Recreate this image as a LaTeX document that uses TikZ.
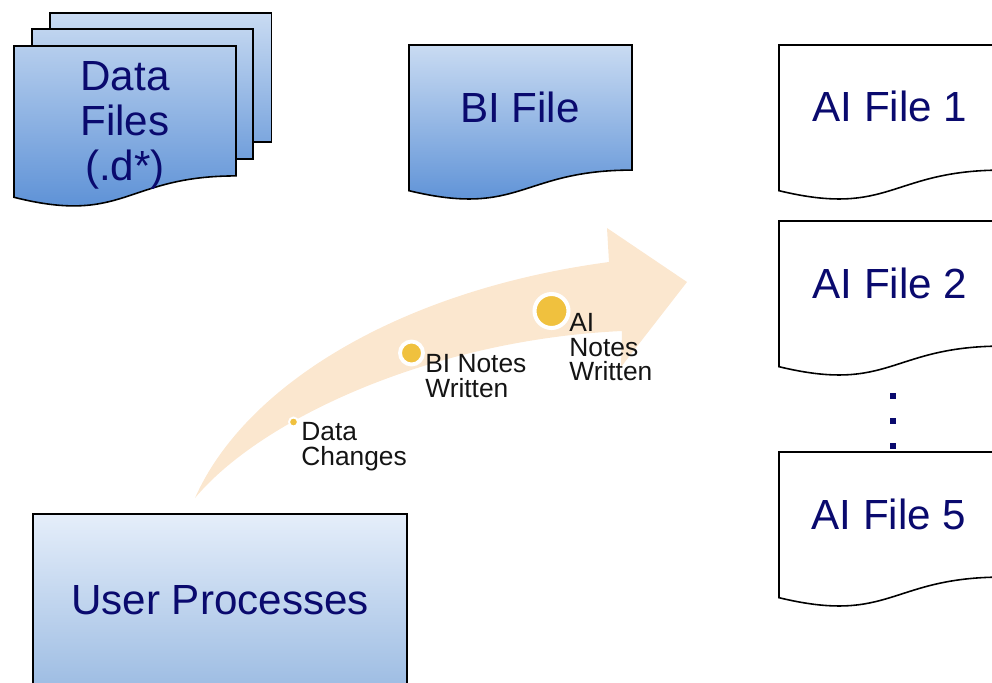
\documentclass[tikz,border=0pt]{standalone}
\usepackage{fontspec}
\setmainfont{Liberation Sans}
\usetikzlibrary{calc}

\definecolor{doctop}{RGB}{201,219,242}
\definecolor{docbot}{RGB}{84,139,212}
\definecolor{proctop}{RGB}{229,238,250}
\definecolor{procbot}{RGB}{158,189,227}
\definecolor{navytext}{RGB}{10,10,110}
\definecolor{labeltext}{RGB}{20,20,20}
\definecolor{arrowfill}{RGB}{251,231,207}
\definecolor{milegold}{RGB}{240,193,62}

% outline of a document page around a frame node
\newcommand{\docshape}[2]{%
  \path[#2] (#1.north west) -- (#1.north east)
    -- ($(#1.north east)!0.802!(#1.south east)$)
    .. controls ($(#1.north)!0.802!(#1.south)$) and ($(#1.north)!1.107!(#1.south)$)
    .. ($(#1.north west)!0.934!(#1.south west)$) -- cycle;}

\begin{document}
\begin{tikzpicture}[x=0.02cm, y=-0.02cm,
    docframe/.style={inner sep=0pt, outer sep=0pt, minimum width=4.46cm, minimum height=3.12cm},
    pageframe/.style={draw=black, line width=0.9pt, inner sep=0pt, minimum width=4.43cm, minimum height=2.59cm},
    docfill/.style={draw=black, line width=0.9pt, top color=doctop, bottom color=docbot},
    aifill/.style={draw=black, line width=0.9pt, fill=white},
    doctext/.style={font=\fontsize{24}{25.6}\selectfont, text=navytext, align=center},
    steplabel/.style={font=\fontsize{15}{14}\selectfont, text=labeltext, align=left, anchor=north west, inner sep=0pt},
    milestone/.style={circle, fill=milegold, draw=white, inner sep=0pt}]
  \useasboundingbox (0,0) rectangle (992,683);

  % data files (stacked pages)
  \node[pageframe, top color=doctop, bottom color=docbot!66!doctop] (databack) at (160.75,77.5) {};
  \node[pageframe, top color=docbot!8!doctop, bottom color=docbot!75!doctop] (datamid) at (142.5,94) {};
  \node[docframe, minimum width=4.44cm, minimum height=3.24cm] (datafront) at (125,127) {};
  \docshape{datafront}{docfill, top color=docbot!17!doctop}
  \node[doctext] (datatext) at (125,125) {Data\\Files\\(.d*)};

  % BI file
  \node[docframe] (bifile) at (520.5,123) {};
  \docshape{bifile}{docfill}
  \node[doctext] (bitext) at (520,107) {BI File};

  % AI files
  \node[docframe] (aifile1) at (890.5,123) {};
  \docshape{aifile1}{aifill}
  \node[doctext] (ai1text) at (890,106) {AI File 1};
  \node[docframe] (aifile2) at (890.5,299) {};
  \docshape{aifile2}{aifill}
  \node[doctext] (ai2text) at (890,283) {AI File 2};
  \node[docframe] (aifile5) at (890.5,530) {};
  \docshape{aifile5}{aifill}
  \node[doctext] (ai5text) at (889,514) {AI File 5};
  \foreach \yy in {396,421,446}
    \fill[navytext] (890,\yy-3) rectangle (896,\yy+3);

  % user processes
  \node[draw=black, line width=0.9pt, top color=proctop, bottom color=procbot,
        minimum width=7.48cm, minimum height=3.44cm, doctext] (userproc) at (220,600) {User Processes};

  % curved timeline arrow
  \fill[arrowfill] (195,498) .. controls (245,385) and (400,290) .. (609,262)
    -- (607,228) -- (687,282) -- (621,367) -- (622,331)
    .. controls (430,340) and (260,420) .. (195,498) -- cycle;

  \node[milestone, minimum size=0.18cm, line width=1.1pt] (datadot) at (293.5,422) {};
  \node[milestone, minimum size=0.46cm, line width=2.2pt] (bidot) at (411.5,353) {};
  \node[milestone, minimum size=0.68cm, line width=2.3pt] (aidot) at (551.5,311) {};

  \node[steplabel] (datalabel) at (301,422) {Data\\Changes};
  \node[steplabel] (bilabel) at (425,354) {BI Notes\\Written};
  \node[steplabel] (ailabel) at (569,313) {AI\\Notes\\Written};
\end{tikzpicture}
\end{document}
